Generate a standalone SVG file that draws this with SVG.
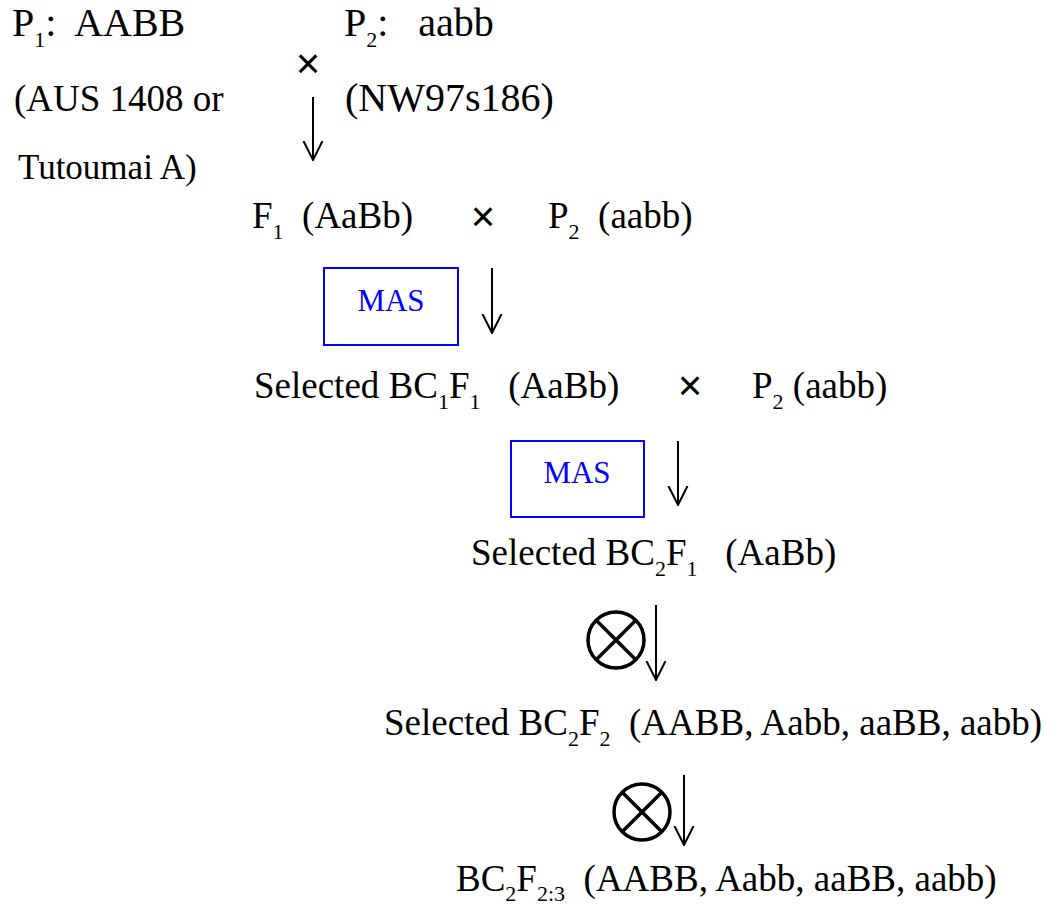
<svg xmlns="http://www.w3.org/2000/svg" width="1056" height="906" viewBox="0 0 1056 906">
<style>
.t{font-family:"Liberation Serif","Times New Roman",serif;font-size:37px;fill:#000;white-space:pre}
.s{font-size:22px}
.big{font-size:40px}
.sm{font-size:35px}
.x{font-family:"Liberation Sans",Arial,sans-serif;font-size:42px;fill:#000;text-anchor:middle}
.mas{font-family:"Liberation Serif","Times New Roman",serif;font-size:31px;fill:#0000ff;text-anchor:middle}
.box{fill:none;stroke:#0000ff;stroke-width:2}
.arr{stroke:#000;stroke-width:2;fill:none}
.ox{stroke:#000;stroke-width:3.5;fill:none}
</style>
<defs>
<marker id="ah" viewBox="0 0 20 22" refX="19" refY="11" markerWidth="20" markerHeight="22" markerUnits="userSpaceOnUse" orient="auto">
<polyline points="0,1.5 19,11 0,20.5" fill="none" stroke="#000" stroke-width="2"/>
</marker>
</defs>
<rect width="1056" height="906" fill="#fff"/>
<g id="p1">
<text class="t big" x="12" y="36">P<tspan class="s" dy="11">1</tspan><tspan dy="-11">:  AABB</tspan></text>
<text class="t" x="14" y="111">(AUS 1408 or</text>
<text class="t sm" x="18" y="179">Tutoumai A)</text>
</g>
<g id="p2">
<text class="t big" x="344" y="36">P<tspan class="s" dy="11">2</tspan><tspan dy="-11">:   aabb</tspan></text>
<text class="t big" x="345" y="111">(NW97s186)</text>
</g>
<g id="cross1"><text class="x" x="308" y="78">×</text></g>
<g id="f1">
<text class="t" x="252" y="228">F<tspan class="s" dy="11">1</tspan><tspan dy="-11">  (AaBb)</tspan></text>
</g>
<g id="cross2"><text class="x" x="483" y="231">×</text></g>
<g id="p2b">
<text class="t" x="548" y="228">P<tspan class="s" dy="11">2</tspan><tspan dy="-11">  (aabb)</tspan></text>
</g>
<g id="mas1"><rect class="box" x="324" y="268" width="134" height="77"/><text class="mas" x="391" y="311">MAS</text></g>
<g id="bc1f1">
<text class="t" x="254" y="398">Selected BC<tspan class="s" dy="11">1</tspan><tspan dy="-11">F</tspan><tspan class="s" dy="11">1</tspan><tspan dy="-11">   (AaBb)</tspan></text>
</g>
<g id="cross3"><text class="x" x="690" y="400">×</text></g>
<g id="p2c">
<text class="t" x="752" y="398">P<tspan class="s" dy="11">2</tspan><tspan dy="-11"> (aabb)</tspan></text>
</g>
<g id="mas2"><rect class="box" x="511" y="441" width="133" height="76"/><text class="mas" x="577" y="483">MAS</text></g>
<g id="bc2f1">
<text class="t" x="471" y="565">Selected BC<tspan class="s" dy="11">2</tspan><tspan dy="-11">F</tspan><tspan class="s" dy="11">1</tspan><tspan dy="-11">   (AaBb)</tspan></text>
</g>
<g id="self1"><circle class="ox" cx="616" cy="640" r="28"/><line class="ox" x1="596.2" y1="620.2" x2="635.8" y2="659.8"/><line class="ox" x1="635.8" y1="620.2" x2="596.2" y2="659.8"/></g>
<g id="bc2f2">
<text class="t" x="384" y="735">Selected BC<tspan class="s" dy="11">2</tspan><tspan dy="-11">F</tspan><tspan class="s" dy="11">2</tspan><tspan dy="-11">  (AABB, Aabb, aaBB, aabb)</tspan></text>
</g>
<g id="self2"><circle class="ox" cx="642" cy="812" r="28"/><line class="ox" x1="622.2" y1="792.2" x2="661.8" y2="831.8"/><line class="ox" x1="661.8" y1="792.2" x2="622.2" y2="831.8"/></g>
<g id="bc2f23">
<text class="t" x="456" y="891">BC<tspan class="s" dy="10">2</tspan><tspan dy="-10">F</tspan><tspan class="s" dy="10">2:3</tspan><tspan dy="-10">  (AABB, Aabb, aaBB, aabb)</tspan></text>
</g>
<g id="connectors">
<line class="arr" x1="313" y1="97" x2="313" y2="160" marker-end="url(#ah)"/>
<line class="arr" x1="492" y1="268" x2="492" y2="333" marker-end="url(#ah)"/>
<line class="arr" x1="678" y1="441" x2="678" y2="505" marker-end="url(#ah)"/>
<line class="arr" x1="656" y1="605" x2="656" y2="680" marker-end="url(#ah)"/>
<line class="arr" x1="684" y1="775" x2="684" y2="845" marker-end="url(#ah)"/>
</g>
</svg>
